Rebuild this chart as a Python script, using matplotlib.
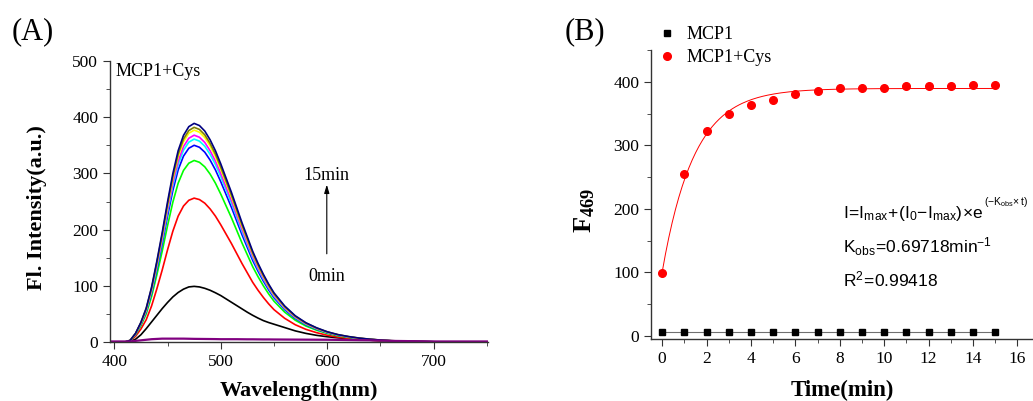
import numpy as np
import matplotlib.pyplot as plt
from matplotlib.ticker import MultipleLocator
from matplotlib.lines import Line2D

plt.rcParams['font.family'] = ['Liberation Serif', 'DejaVu Serif']
plt.rcParams['mathtext.fontset'] = 'custom'
plt.rcParams['mathtext.rm'] = 'Liberation Sans'
plt.rcParams['mathtext.it'] = 'Liberation Sans:italic'
plt.rcParams['mathtext.sf'] = 'Liberation Sans'
plt.rcParams['mathtext.bf'] = 'Liberation Serif:bold'

# (A) emission spectra
wavelength = [396, 405, 410, 415, 420, 425, 430, 435, 440, 445, 450, 455, 460, 465,
              470, 475, 480, 485, 490, 495, 500, 505, 510, 515, 520, 525, 530, 535,
              540, 545, 550, 560, 570, 580, 590, 600, 610, 620, 630, 640, 650, 660,
              680, 700, 725, 751]
# normalised shape of the late spectra (1-15 min)
shape_late = [0, 0, 0, 0.008, 0.04, 0.09, 0.155, 0.25, 0.37, 0.50, 0.64, 0.77, 0.875, 0.945,
              0.985, 1.0, 0.99, 0.965, 0.925, 0.875, 0.815, 0.75, 0.685, 0.615, 0.545, 0.48,
              0.415, 0.36, 0.31, 0.265, 0.225, 0.165, 0.12, 0.088, 0.065, 0.047, 0.034, 0.025,
              0.018, 0.013, 0.009, 0.006, 0.003, 0.001, 0, 0]
# normalised shape of the 0 min spectrum
shape_start = [0, 0, 0, 0.01, 0.05, 0.13, 0.24, 0.36, 0.48, 0.60, 0.71, 0.81, 0.89, 0.95,
               0.99, 1.0, 0.99, 0.965, 0.93, 0.885, 0.835, 0.775, 0.715, 0.655, 0.595, 0.535,
               0.48, 0.43, 0.385, 0.35, 0.32, 0.26, 0.20, 0.155, 0.12, 0.095, 0.075, 0.06,
               0.045, 0.033, 0.023, 0.015, 0.006, 0.002, 0, 0]
peak_heights = [99, 256, 323, 350, 361, 368, 377, 382, 389]
spectra_colors = ['black', 'red', '#00ff00', 'blue', 'cyan', 'magenta', 'yellow', '#808000', '#000080']
probe_only = [1, 1, 1, 1, 2, 3, 4, 5, 5.5, 6, 6, 6, 6, 6, 5.8, 5.6, 5.5, 5.4, 5.3, 5.2,
              5, 5, 5, 5, 4.9, 4.8, 4.8, 4.7, 4.6, 4.6, 4.5, 4.4, 4.3, 4.2, 4.1, 4, 3.8, 3.5,
              3.2, 3, 2.5, 2, 1.5, 1, 1, 1]

# (B) kinetics at 469 nm
time_min = list(range(16))
f469_probe = [6] * 16
f469_cys = [99, 255, 322, 350, 363, 371, 380, 385, 390, 390, 391, 393, 394, 394, 395, 395]
fit_imax, fit_i0, k_obs = 389.5, 100, 0.69718

fig = plt.figure(figsize=(10.33, 4.01), dpi=100)

# ---------- panel A ----------
ax1 = fig.add_axes([0.1065, 0.1471, 0.3659, 0.7008])
for i, (h, c) in enumerate(zip(peak_heights, spectra_colors)):
    shape = shape_start if i == 0 else shape_late
    ax1.plot(wavelength, np.array(shape) * h, color=c, lw=1.2)
ax1.plot(wavelength, probe_only, color='#800080', lw=1.6)

ax1.set_xlim(396, 751)
ax1.set_ylim(0, 500)
ax1.xaxis.set_major_locator(MultipleLocator(100))
ax1.xaxis.set_minor_locator(MultipleLocator(50))
ax1.yaxis.set_major_locator(MultipleLocator(100))
ax1.yaxis.set_minor_locator(MultipleLocator(50))
ax1.set_xlabel('Wavelength(nm)', fontsize=16, fontweight='bold')
ax1.set_ylabel('Fl. Intensity(a.u.)', fontsize=16, fontweight='bold')
ax1.xaxis.set_label_coords(0.5, -0.14)
ax1.yaxis.set_label_coords(-0.1675, 0.479)
ax1.text(401, 482, 'MCP1+Cys', fontsize=13, va='center')
ax1.annotate('', xy=(599.6, 285), xytext=(599.6, 152),
             arrowprops=dict(arrowstyle='-|>,head_length=0.5,head_width=0.15', color='black', lw=0.8))
ax1.text(599.6, 296, '15min', fontsize=13, ha='center', va='center')
ax1.text(599.6, 117, '0min', fontsize=13, ha='center', va='center')
fig.text(33 / 1033, 1 - 32 / 401, '(A)', fontsize=22, ha='center', va='center')

# ---------- panel B ----------
ax2 = fig.add_axes([0.6302, 0.1546, 0.3698, 0.7207])
ax2.plot(time_min, f469_probe, color='#707070', lw=0.8, marker='s', ms=5,
         mfc='black', mec='black')
ax2.plot(time_min, f469_cys, ls='none', marker='o', ms=5.5, color='red')
t_fit = np.linspace(0, 15, 200)
ax2.plot(t_fit, fit_imax + (fit_i0 - fit_imax) * np.exp(-k_obs * t_fit), color='red', lw=0.7)

ax2.set_xlim(-0.5, 16.7)
ax2.set_ylim(-4.7, 450)
ax2.xaxis.set_major_locator(MultipleLocator(2))
ax2.xaxis.set_minor_locator(MultipleLocator(1))
ax2.yaxis.set_major_locator(MultipleLocator(100))
ax2.yaxis.set_minor_locator(MultipleLocator(50))
ax2.set_xlabel('Time(min)', fontsize=16.5, fontweight='bold')
ax2.set_ylabel(r'$\mathbf{F_{469}}$', fontsize=19)
ax2.xaxis.set_label_coords(0.5, -0.14)
ax2.yaxis.set_label_coords(-0.142, 0.446)
handles = [Line2D([], [], ls='none', marker='s', ms=5, color='black'),
           Line2D([], [], ls='none', marker='o', ms=5.5, color='red')]
ax2.legend(handles, ['MCP1', 'MCP1+Cys'], loc='upper left',
           bbox_to_anchor=(649 / 1033, 1 - 17 / 401),
           bbox_transform=fig.transFigure, frameon=False, fontsize=13,
           handlelength=1.0, handletextpad=0.6, labelspacing=0.35, borderpad=0)
eq_size = 12.5
eq_base = ax2.text(8.15, 193, r'$\mathrm{I\!=\!I_{max}\!+\!(I_0\!-\!I_{max})\!\times\! e}$',
                   fontsize=eq_size, ha='left', va='center')
ax2.annotate(r'$\mathrm{(-K_{obs}\!\times t)}$', xy=(1, 0.72), xycoords=eq_base,
             fontsize=7.5, ha='left', va='bottom')
ax2.text(8.15, 140, r'$\mathrm{K_{obs}\!=\!0.69718min^{-1}}$', fontsize=eq_size, ha='left', va='center')
ax2.text(8.15, 88, r'$\mathrm{R^2\!=\!0.99418}$', fontsize=eq_size, ha='left', va='center')
fig.text(585 / 1033, 1 - 32 / 401, '(B)', fontsize=22, ha='center', va='center')

for ax in (ax1, ax2):
    ax.spines['top'].set_visible(False)
    ax.spines['right'].set_visible(False)
    for s in ('left', 'bottom'):
        ax.spines[s].set_color('#333333')
        ax.spines[s].set_linewidth(1.0)
    ax.tick_params(which='both', direction='out', labelsize=12.5, color='#333333',
                   labelfontfamily='Liberation Serif')
    ax.tick_params(which='major', length=5)
    ax.tick_params(which='minor', length=3)

fig.savefig('out.png', dpi=100)
